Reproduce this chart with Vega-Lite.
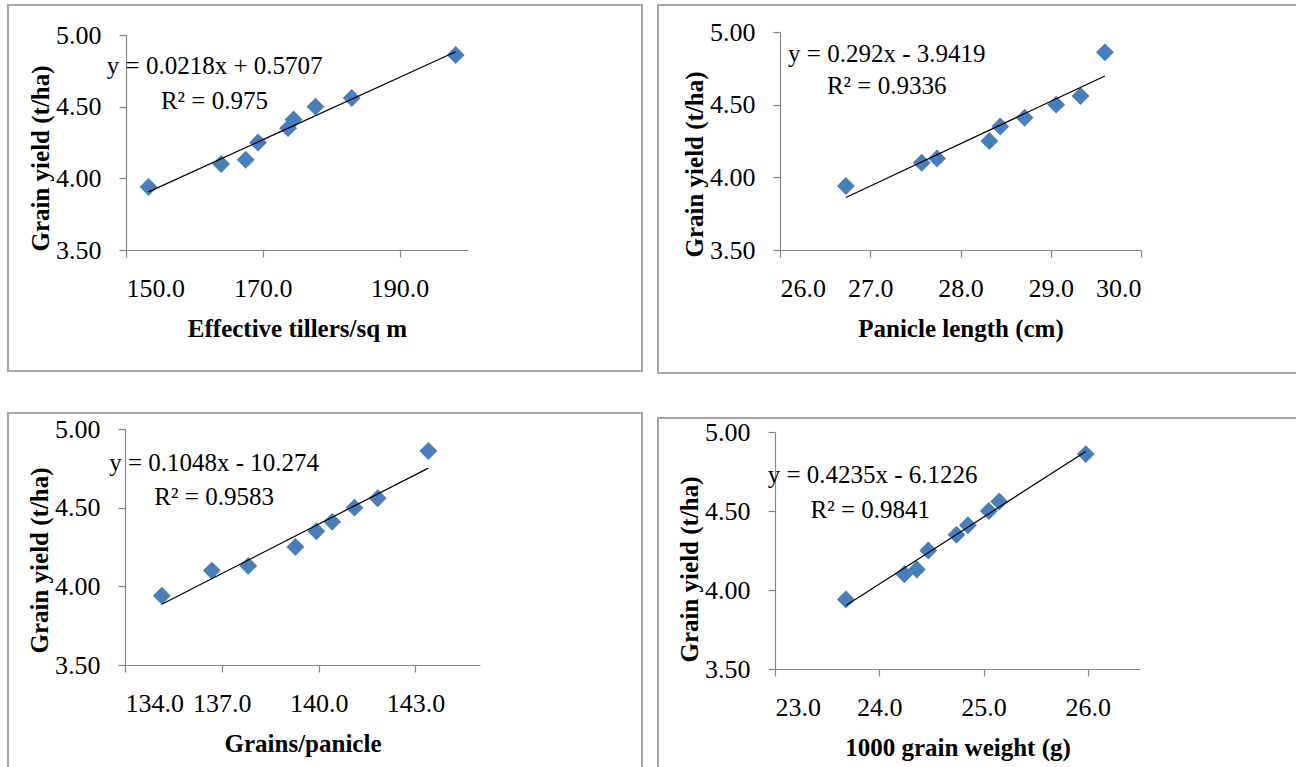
{
  "$schema": "https://vega.github.io/schema/vega-lite/v6.json",
  "padding": {"left": 7, "top": 4, "right": 0, "bottom": 0},
  "background": "white",
  "datasets": {
    "traits": [
      {"tillers": 153.3, "panicle": 26.73, "grains": 135.14, "weight": 23.68, "yield": 3.94},
      {"tillers": 163.9, "panicle": 27.57, "grains": 136.69, "weight": 24.24, "yield": 4.10},
      {"tillers": 167.5, "panicle": 27.74, "grains": 137.82, "weight": 24.36, "yield": 4.13},
      {"tillers": 169.3, "panicle": 28.32, "grains": 139.28, "weight": 24.47, "yield": 4.25},
      {"tillers": 173.7, "panicle": 28.44, "grains": 139.93, "weight": 24.74, "yield": 4.35},
      {"tillers": 174.5, "panicle": 28.71, "grains": 140.42, "weight": 24.85, "yield": 4.41},
      {"tillers": 177.7, "panicle": 29.06, "grains": 141.11, "weight": 25.05, "yield": 4.50},
      {"tillers": 183.0, "panicle": 29.33, "grains": 141.83, "weight": 25.15, "yield": 4.56},
      {"tillers": 198.2, "panicle": 29.60, "grains": 143.40, "weight": 25.98, "yield": 4.86}
    ]
  },
  "data": {"name": "traits"},
  "hconcat": [
    {
      "spacing": 40,
      "vconcat": [
        {
          "width": 634, "height": 366,
          "layer": [
            {
              "mark": {"type": "point", "shape": "diamond", "filled": true, "size": 320, "color": "#4A7EBB", "opacity": 1},
              "encoding": {
                "x": {"field": "tillers", "type": "quantitative",
                  "scale": {"domain": [150, 200], "range": [118, 460], "nice": false, "zero": false},
                  "axis": {"title": "Effective tillers/sq m", "values": [150, 170, 190], "format": ".1f", "offset": -121}},
                "y": {"field": "yield", "type": "quantitative",
                  "scale": {"domain": [3.5, 5], "range": [245, 30], "nice": false, "zero": false},
                  "axis": {"title": "Grain yield (t/ha)", "values": [3.5, 4, 4.5, 5], "format": ".2f", "offset": -118, "titleY": 153}}
              }
            },
            {
              "transform": [{"regression": "yield", "on": "tillers"}],
              "mark": {"type": "line", "color": "#000000", "strokeWidth": 1.2},
              "encoding": {"x": {"field": "tillers", "type": "quantitative"}, "y": {"field": "yield", "type": "quantitative"}}
            },
            {
              "data": {"values": [{"t": "y = 0.0218x + 0.5707"}]},
              "mark": {"type": "text", "align": "left", "baseline": "middle", "font": "Liberation Serif", "fontSize": 25, "color": "#000000"},
              "encoding": {"x": {"datum": 147.2, "type": "quantitative"}, "y": {"datum": 4.784, "type": "quantitative"}, "text": {"field": "t"}}
            },
            {
              "data": {"values": [{"t": "R² = 0.975"}]},
              "mark": {"type": "text", "align": "left", "baseline": "middle", "font": "Liberation Serif", "fontSize": 25, "color": "#000000"},
              "encoding": {"x": {"datum": 155.1, "type": "quantitative"}, "y": {"datum": 4.54, "type": "quantitative"}, "text": {"field": "t"}}
            }
          ]
        },
        {
          "width": 634, "height": 355,
          "layer": [
            {
              "mark": {"type": "point", "shape": "diamond", "filled": true, "size": 320, "color": "#4A7EBB", "opacity": 1},
              "encoding": {
                "x": {"field": "grains", "type": "quantitative",
                  "scale": {"domain": [134, 145], "range": [117, 472], "nice": false, "zero": false},
                  "axis": {"title": "Grains/panicle", "values": [134, 137, 140, 143], "format": ".1f", "offset": -103}},
                "y": {"field": "yield", "type": "quantitative",
                  "scale": {"domain": [3.5, 5], "range": [252, 16], "nice": false, "zero": false},
                  "axis": {"title": "Grain yield (t/ha)", "values": [3.5, 4, 4.5, 5], "format": ".2f", "offset": -117, "titleY": 147}}
              }
            },
            {
              "transform": [{"regression": "yield", "on": "grains"}],
              "mark": {"type": "line", "color": "#000000", "strokeWidth": 1.2},
              "encoding": {"x": {"field": "grains", "type": "quantitative"}, "y": {"field": "yield", "type": "quantitative"}}
            },
            {
              "data": {"values": [{"t": "y = 0.1048x - 10.274"}]},
              "mark": {"type": "text", "align": "left", "baseline": "middle", "font": "Liberation Serif", "fontSize": 25, "color": "#000000"},
              "encoding": {"x": {"datum": 133.51, "type": "quantitative"}, "y": {"datum": 4.784, "type": "quantitative"}, "text": {"field": "t"}}
            },
            {
              "data": {"values": [{"t": "R² = 0.9583"}]},
              "mark": {"type": "text", "align": "left", "baseline": "middle", "font": "Liberation Serif", "fontSize": 25, "color": "#000000"},
              "encoding": {"x": {"datum": 134.91, "type": "quantitative"}, "y": {"datum": 4.567, "type": "quantitative"}, "text": {"field": "t"}}
            }
          ]
        }
      ]
    },
    {
      "spacing": 43,
      "vconcat": [
        {
          "width": 640, "height": 368,
          "layer": [
            {
              "mark": {"type": "point", "shape": "diamond", "filled": true, "size": 320, "color": "#4A7EBB", "opacity": 1},
              "encoding": {
                "x": {"field": "panicle", "type": "quantitative",
                  "scale": {"domain": [26, 30], "range": [122, 483], "nice": false, "zero": false},
                  "axis": {"title": "Panicle length (cm)", "values": [26, 27, 28, 29, 30], "format": ".1f", "offset": -123}},
                "y": {"field": "yield", "type": "quantitative",
                  "scale": {"domain": [3.5, 5], "range": [245, 27], "nice": false, "zero": false},
                  "axis": {"title": "Grain yield (t/ha)", "values": [3.5, 4, 4.5, 5], "format": ".2f", "offset": -122, "titleY": 159}}
              }
            },
            {
              "transform": [{"regression": "yield", "on": "panicle"}],
              "mark": {"type": "line", "color": "#000000", "strokeWidth": 1.2},
              "encoding": {"x": {"field": "panicle", "type": "quantitative"}, "y": {"field": "yield", "type": "quantitative"}}
            },
            {
              "data": {"values": [{"t": "y = 0.292x - 3.9419"}]},
              "mark": {"type": "text", "align": "left", "baseline": "middle", "font": "Liberation Serif", "fontSize": 25, "color": "#000000"},
              "encoding": {"x": {"datum": 26.09, "type": "quantitative"}, "y": {"datum": 4.847, "type": "quantitative"}, "text": {"field": "t"}}
            },
            {
              "data": {"values": [{"t": "R² = 0.9336"}]},
              "mark": {"type": "text", "align": "left", "baseline": "middle", "font": "Liberation Serif", "fontSize": 25, "color": "#000000"},
              "encoding": {"x": {"datum": 26.52, "type": "quantitative"}, "y": {"datum": 4.63, "type": "quantitative"}, "text": {"field": "t"}}
            }
          ]
        },
        {
          "width": 640, "height": 351,
          "layer": [
            {
              "mark": {"type": "point", "shape": "diamond", "filled": true, "size": 320, "color": "#4A7EBB", "opacity": 1},
              "encoding": {
                "x": {"field": "weight", "type": "quantitative",
                  "scale": {"domain": [23, 26.5], "range": [117, 482], "nice": false, "zero": false},
                  "axis": {"title": "1000 grain weight (g)", "values": [23, 24, 25, 26], "format": ".1f", "offset": -100}},
                "y": {"field": "yield", "type": "quantitative",
                  "scale": {"domain": [3.5, 5], "range": [251, 14], "nice": false, "zero": false},
                  "axis": {"title": "Grain yield (t/ha)", "values": [3.5, 4, 4.5, 5], "format": ".2f", "offset": -117, "titleY": 151}}
              }
            },
            {
              "transform": [{"regression": "yield", "on": "weight"}],
              "mark": {"type": "line", "color": "#000000", "strokeWidth": 1.2},
              "encoding": {"x": {"field": "weight", "type": "quantitative"}, "y": {"field": "yield", "type": "quantitative"}}
            },
            {
              "data": {"values": [{"t": "y = 0.4235x - 6.1226"}]},
              "mark": {"type": "text", "align": "left", "baseline": "middle", "font": "Liberation Serif", "fontSize": 25, "color": "#000000"},
              "encoding": {"x": {"datum": 22.93, "type": "quantitative"}, "y": {"datum": 4.731, "type": "quantitative"}, "text": {"field": "t"}}
            },
            {
              "data": {"values": [{"t": "R² = 0.9841"}]},
              "mark": {"type": "text", "align": "left", "baseline": "middle", "font": "Liberation Serif", "fontSize": 25, "color": "#000000"},
              "encoding": {"x": {"datum": 23.34, "type": "quantitative"}, "y": {"datum": 4.509, "type": "quantitative"}, "text": {"field": "t"}}
            }
          ]
        }
      ]
    }
  ],
  "spacing": 14,
  "config": {
    "view": {"stroke": "#A6A6A6", "strokeWidth": 2},
    "axis": {
      "grid": false,
      "domainColor": "#868686",
      "domainWidth": 1.2,
      "tickColor": "#868686",
      "tickWidth": 1.2,
      "tickSize": 7,
      "labelFont": "Liberation Serif",
      "labelFontSize": 26,
      "labelColor": "#000000",
      "titleFont": "Liberation Serif",
      "titleFontSize": 25,
      "titleFontWeight": "bold",
      "titleColor": "#000000"
    },
    "axisX": {"labelPadding": 18, "titlePadding": 15},
    "axisY": {"labelPadding": 18, "titlePadding": 2}
  }
}
